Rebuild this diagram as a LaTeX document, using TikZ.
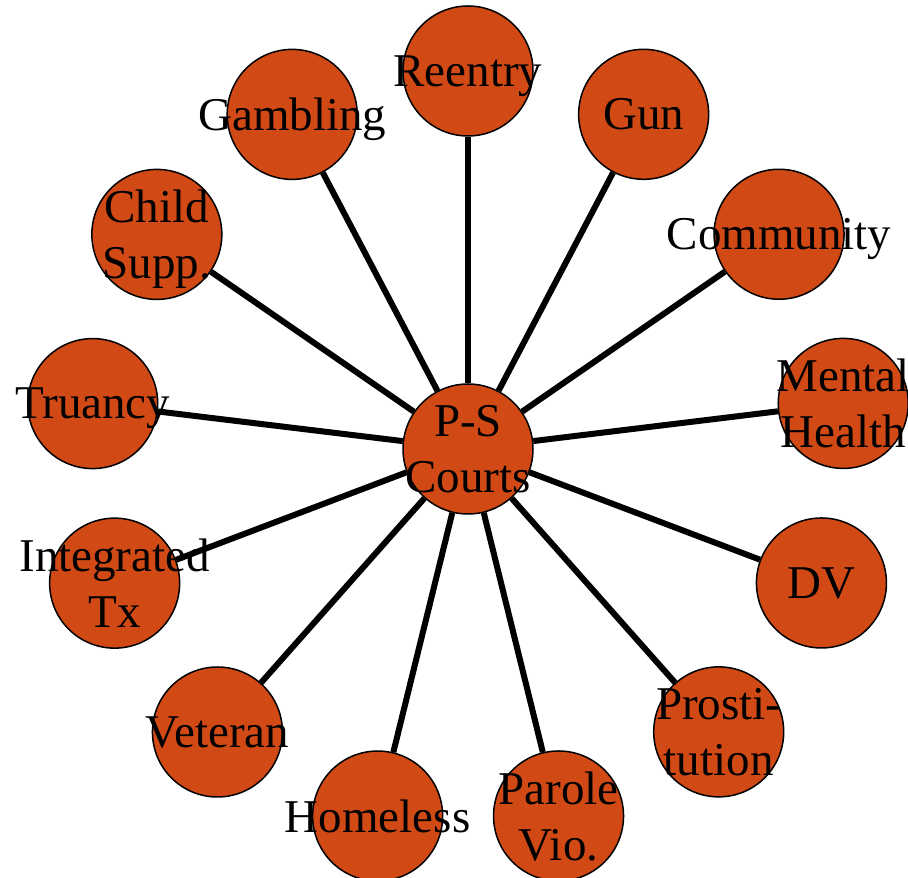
\documentclass[tikz,border=0pt]{standalone}
\usepackage{fontspec}
\setmainfont{Liberation Serif}
\usetikzlibrary{calc}
\definecolor{courtorange}{HTML}{D14A16}

\begin{document}
\begin{tikzpicture}[x=1pt, y=1pt,
    court/.style={circle, draw=black, line width=1.5pt, fill=courtorange,
      minimum size=130pt, inner sep=0pt},
    courttext/.style={align=center, text depth=0pt, inner sep=0pt,
      font=\fontsize{47}{56}\selectfont},
    spoke/.style={line width=6pt}]
  \useasboundingbox (0,0) rectangle (908,878);
  \node[court, label={[courttext]center:P-S\\Courts}] (hub) at (468,429) {};
  % thirteen courts evenly round the hub
  \foreach \name/\txt [count=\i from 0] in {reentry/Reentry, gun/Gun,
      community/Community, mental/Mental\\Health, dv/DV,
      prost/Prosti-\\tution, parole/Parole\\Vio., homeless/Homeless,
      veteran/Veteran, integ/Integrated\\Tx, truancy/Truancy,
      child/Child\\Supp., gambling/Gambling}
  {
    \node[court, label={[courttext]center:\txt}] (\name)
      at ($(hub)+(90-27.69*\i:378)$) {};
    \draw[spoke] (hub) -- (\name);
  }
\end{tikzpicture}
\end{document}
